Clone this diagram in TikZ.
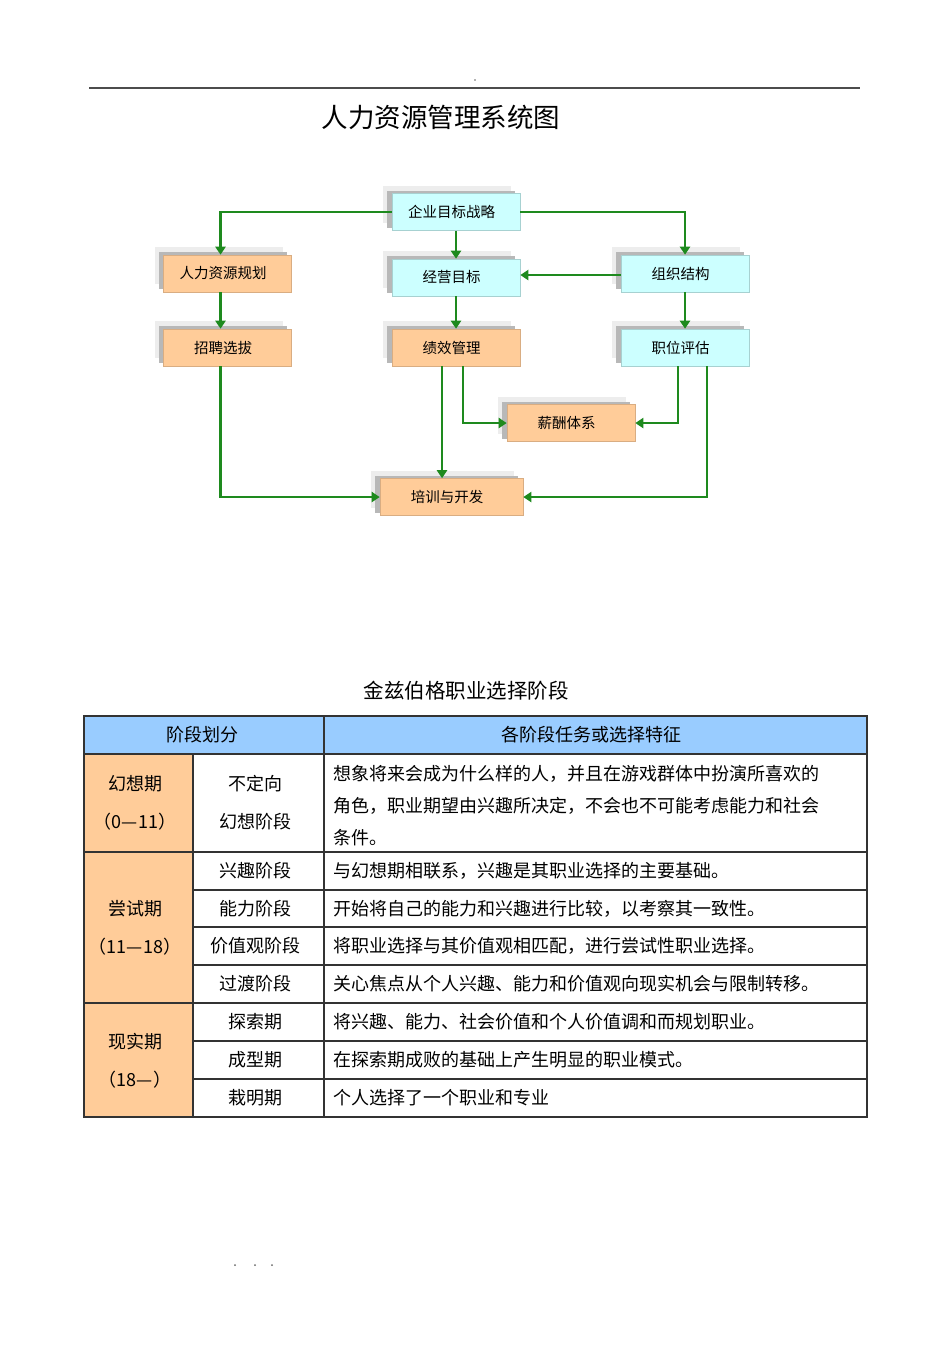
\documentclass[tikz,border=0pt]{standalone}
\usepackage{fontspec}
\setmainfont{Noto Sans CJK SC}
\usepackage{tikz}
\usetikzlibrary{arrows.meta,shadows}

\definecolor{flowgreen}{RGB}{30,138,30}
\definecolor{peach}{RGB}{255,204,153}
\definecolor{aqua}{RGB}{204,255,255}
\definecolor{headblue}{RGB}{153,204,255}

\tikzset{
  box/.style={minimum width=128pt, minimum height=37pt, inner sep=0pt,
    font=\fontsize{14.5}{14.5}\selectfont, line width=0.6pt,
    execute at begin node={\hspace*{-9pt}},
    general shadow={shadow xshift=-9pt, shadow yshift=8pt, draw=none, fill=black!7},
    general shadow={shadow xshift=-5pt, shadow yshift=3pt, draw=none, fill=black!28}},
  warm/.style={box, fill=peach, draw=peach!85!black},
  cool/.style={box, fill=aqua, draw=aqua!82!black},
  flow/.style={draw=flowgreen, line width=2.4pt, -{Triangle[length=8pt,width=10pt]}},
  cell/.style={font=\fontsize{18}{38}\selectfont, align=center},
  line/.style={draw=black!80, line width=1.1pt}
}

\begin{document}
\begin{tikzpicture}[x=1pt,y=-1pt]
  \useasboundingbox (0,0) rectangle (950,1345);

  %page header and footer
  \draw[black!70, line width=1.3pt] (89,88) -- (860,88);
  \fill[black!60] (475,80) circle (0.8);
  \fill[black!60] (235,1265) circle (1);
  \fill[black!60] (255,1265) circle (1);
  \fill[black!60] (272,1265) circle (1);

  %titles
  \node[font=\fontsize{26.5}{26.5}\selectfont] (title) at (441,117) {人力资源管理系统图};
  \node[font=\fontsize{20.5}{20.5}\selectfont] (tabletitle) at (466,691) {金兹伯格职业选择阶段};

  %boxes
  \node[cool] (goal) at (456,212) {企业目标战略};
  \node[warm] (plan) at (227.5,273.5) {人力资源规划};
  \node[cool] (target) at (456,277.5) {经营目标};
  \node[cool] (org) at (685,273.5) {组织结构};
  \node[warm] (hire) at (227.5,347.5) {招聘选拔};
  \node[warm] (perf) at (456,347.5) {绩效管理};
  \node[cool] (eval) at (685,347.5) {职位评估};
  \node[warm] (pay) at (571,423) {薪酬体系};
  \node[warm, minimum width=143pt] (train) at (451.5,497) {培训与开发};

  %connectors
  \draw[flow] (goal.west) -| ([xshift=-7pt]plan.north);
  \draw[flow] (goal.east) -| (org.north);
  \draw[flow] (goal.south) -- (target.north);
  \draw[flow] ([yshift=-1.5pt]org.west) -- ([yshift=-1.5pt]org.west -| target.east);
  \draw[flow] ([xshift=-7pt]plan.south) -- ([xshift=-7pt]hire.north);
  \draw[flow] (target.south) -- (perf.north);
  \draw[flow] (org.south) -- (eval.north);
  \draw[flow] ([xshift=-7pt]hire.south) |- (train.west);
  \draw[flow] ([xshift=-14pt]perf.south) -- ([xshift=-14pt]perf.south |- train.north);
  \draw[flow] ([xshift=7pt]perf.south) |- (pay.west);
  \draw[flow] ([xshift=-7pt]eval.south) |- (pay.east);
  \draw[flow] ([xshift=22pt]eval.south) |- (train.east);

  %table fills
  \fill[headblue] (84,716) rectangle (867,754);
  \fill[peach] (84,754) rectangle (193,1117);

  %table rules
  \draw[line] (84,716) rectangle (867,1117);
  \draw[line] (84,754) -- (867,754);
  \draw[line] (84,852) -- (867,852);
  \draw[line] (84,1003) -- (867,1003);
  \draw[line] (193,890) -- (867,890);
  \draw[line] (193,927) -- (867,927);
  \draw[line] (193,965) -- (867,965);
  \draw[line] (193,1041) -- (867,1041);
  \draw[line] (193,1079) -- (867,1079);
  \draw[line] (193,754) -- (193,1117);
  \draw[line] (324,716) -- (324,1117);

  %table header
  \node[cell] (headstage) at (202,735) {阶段划分};
  \node[cell] (headtask) at (591,735) {各阶段任务或选择特征};

  %periods
  \node[cell] (fantasy) at (135,803) {幻想期\\（0—11）};
  \node[cell] (trial) at (135,927.5) {尝试期\\（11—18）};
  \node[cell] (real) at (135,1060.5) {现实期\\（18—）};

  %stages
  \node[cell] (sfantasy) at (255,803) {不定向\\幻想阶段};
  \node[cell] (sinterest) at (255,871) {兴趣阶段};
  \node[cell] (sability) at (255,908.5) {能力阶段};
  \node[cell] (svalue) at (255,946) {价值观阶段};
  \node[cell] (stransit) at (255,984) {过渡阶段};
  \node[cell] (sexplore) at (255,1022) {探索期};
  \node[cell] (sshape) at (255,1060) {成型期};
  \node[cell] (sclear) at (255,1098) {栽明期};

  %features
  \node[cell, font=\fontsize{18}{32}\selectfont, align=left, anchor=west] (tfantasy) at (330,806) {想象将来会成为什么样的人，并且在游戏群体中扮演所喜欢的\\角色，职业期望由兴趣所决定，不会也不可能考虑能力和社会\\条件。};
  \node[cell, anchor=west] (tinterest) at (330,871) {与幻想期相联系，兴趣是其职业选择的主要基础。};
  \node[cell, anchor=west] (tability) at (330,908.5) {开始将自己的能力和兴趣进行比较，以考察其一致性。};
  \node[cell, anchor=west] (tvalue) at (330,946) {将职业选择与其价值观相匹配，进行尝试性职业选择。};
  \node[cell, anchor=west] (ttransit) at (330,984) {关心焦点从个人兴趣、能力和价值观向现实机会与限制转移。};
  \node[cell, anchor=west] (texplore) at (330,1022) {将兴趣、能力、社会价值和个人价值调和而规划职业。};
  \node[cell, anchor=west] (tshape) at (330,1060) {在探索期成败的基础上产生明显的职业模式。};
  \node[cell, anchor=west] (tclear) at (330,1098) {个人选择了一个职业和专业};
\end{tikzpicture}
\end{document}
